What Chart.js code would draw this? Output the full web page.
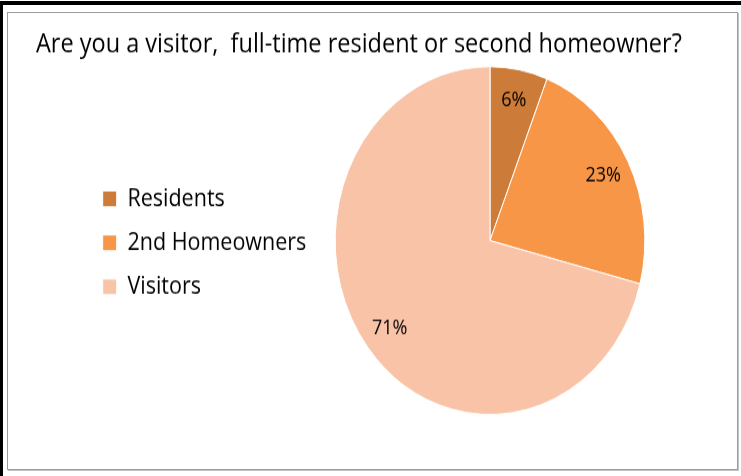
<!DOCTYPE html>
<html>
<head>
<meta charset="utf-8">
<script src="https://cdn.jsdelivr.net/npm/chart.js@4.4.1/dist/chart.umd.min.js"></script>
<style>
  body { margin: 0; background: #fff; }
  #page { position: relative; width: 741px; height: 476px; overflow: hidden; background: #fff; }
  .rule-top { position: absolute; left: 0; top: 1px; width: 741px; height: 4px; background: #000; }
  .rule-left { position: absolute; left: 0; top: 1px; width: 3px; height: 475px; background: #000; }
  #box { position: absolute; left: 7px; top: 12px; width: 729px; height: 456px;
         border: 1px solid #9c9c9c; box-shadow: 1px 1px 0 #c4c4c4; }
  #wrap { position: absolute; left: 8px; top: 13px; width: 729px; height: 406px;
          transform: scaleY(1.123); transform-origin: 0 0; }
</style>
</head>
<body>
<div id="page">
  <div class="rule-top"></div>
  <div class="rule-left"></div>
  <div id="box"></div>
  <div id="wrap"><canvas id="visitorChart" width="729" height="406"></canvas></div>
</div>
<script>
const groups = ['Residents', '2nd Homeowners', 'Visitors'];
const shares = [6, 23, 71];
const sliceColors = ['#cd7b38', '#f79646', '#f9c3a7'];
const chartTitle = 'Are you a visitor,  full-time resident or second homeowner?';
const fontFace = '"Open Sans", Lato, sans-serif';

// percent text placed inside each slice, along its middle angle
const pctLabels = {
    id: 'pctLabels',
    afterDatasetsDraw(chart) {
        const ctx = chart.ctx;
        const meta = chart.getDatasetMeta(0);
        ctx.save();
        ctx.font = `18px ${fontFace}`;
        ctx.fillStyle = '#000000';
        ctx.textAlign = 'center';
        ctx.textBaseline = 'middle';
        meta.data.forEach((arc, i) => {
            const p = arc.getProps(['x', 'y', 'startAngle', 'endAngle', 'outerRadius'], true);
            const mid = (p.startAngle + p.endAngle) / 2;
            const r = p.outerRadius * 0.82;
            ctx.fillText(shares[i] + '%', p.x + Math.cos(mid) * r, p.y + Math.sin(mid) * r);
        });
        ctx.restore();
    }
};

// move the legend column in from the left edge without touching the title box,
// and widen its clip box so the longest label is not cut off
const legendShift = {
    id: 'legendShift',
    afterLayout(chart) {
        const lg = chart.legend;
        lg.left += 49;
        lg.right += 120;
        lg.top += 2;
        lg.bottom += 2;
    }
};

const ctx = document.getElementById('visitorChart').getContext('2d');
new Chart(ctx, {
    type: 'pie',
    data: {
        labels: groups,
        datasets: [{
            data: shares,
            backgroundColor: sliceColors,
            borderColor: '#ffffff',
            borderWidth: 1
        }]
    },
    options: {
        responsive: false,
        animation: false,
        layout: {
            padding: { left: 28, right: 8, top: 0, bottom: 48 }
        },
        plugins: {
            title: {
                display: true,
                text: chartTitle,
                align: 'start',
                color: '#000000',
                font: { family: fontFace, size: 23.5, weight: 'normal' },
                padding: { top: 14.4, bottom: 4.7 }
            },
            legend: {
                position: 'left',
                align: 'center',
                fullSize: false,
                maxWidth: 215,
                labels: {
                    boxWidth: 14,
                    boxHeight: 14,
                    padding: 17.7,
                    color: '#000000',
                    font: { family: fontFace, size: 21.5 }
                }
            },
            tooltip: { enabled: false }
        }
    },
    plugins: [pctLabels, legendShift]
});
</script>
</body>
</html>
